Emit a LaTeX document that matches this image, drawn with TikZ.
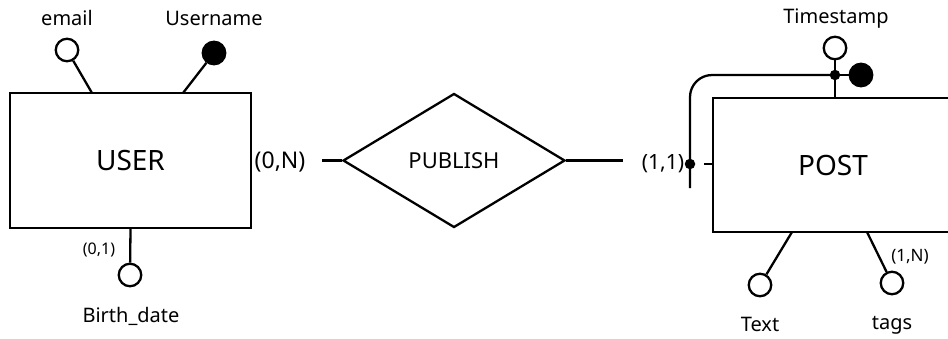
\documentclass[tikz,border=0pt]{standalone}
\usepackage{fontspec}
\setmainfont{Noto Sans}
\usetikzlibrary{shapes.geometric}
\begin{document}
\begin{tikzpicture}[x=1pt,y=-1pt,
  ln/.style={line width=2.3pt},
  ent/.style={draw, line width=2.3pt, rectangle, inner sep=0, font=\fontsize{28}{32}\selectfont},
  rel/.style={draw, line width=2.3pt, diamond, inner sep=0, font=\fontsize{22}{26}\selectfont},
  attr/.style={circle, draw, line width=2.3pt, minimum size=22.5pt, inner sep=0},
  key/.style={attr, fill=black},
  jdot/.style={circle, fill=black, minimum size=10.5pt, inner sep=0},
  lab/.style={font=\fontsize{20}{24}\selectfont, inner sep=0, anchor=base},
  card/.style={font=\fontsize{23}{26}\selectfont, inner sep=0},
  scard/.style={font=\fontsize{16}{19}\selectfont, inner sep=0}]
\clip (0,0) rectangle (948,338);
% entities
\node[ent, minimum width=241pt, minimum height=135pt] (user) at (130.5,160.5) {USER};
\node[ent, minimum width=240pt, minimum height=134pt] (post) at (833,165) {POST};
\node[rel, minimum width=222pt, minimum height=134pt] (pub) at (454,160.5) {PUBLISH};
% USER attributes
\node[attr] (email) at (67,50) {};
\node[key] (uname) at (214,53) {};
\node[attr] (birth) at (130,275) {};
\node[lab] (emailt) at (67,25) {email};
\node[lab] (unamet) at (214,25) {Username};
\node[lab] (birtht) at (131,322) {Birth\_date};
\node[scard] (c01) at (99,250) {(0,1)};
\coordinate (ue) at (92,93);
\coordinate (uu) at (183,93);
\draw[ln] (email) -- (ue);
\draw[ln] (uname) -- (uu);
\draw[ln] (birth) -- (user.south);
% relationship
\node[card] (c0n) at (280,162) {(0,N)};
\coordinate (pl) at (322,160.5);
\coordinate (pr) at (623,160.5);
\draw[ln] (pl) -- (pub.west);
\draw[ln] (pub.east) -- (pr);
\node[font=\fontsize{21}{24}\selectfont, inner sep=0] (c11) at (663,164) {(1,1)};
% POST attributes
\node[attr] (ts) at (835,48) {};
\node[key] (tskey) at (861,75) {};
\node[jdot] (tsdot) at (835,75) {};
\node[jdot] (iddot) at (690,164) {};
\node[lab] (tst) at (836,23) {Timestamp};
\coordinate (pt) at (835,98);
\coordinate (idbot) at (690,188);
\coordinate (corner) at (690,75);
\coordinate (stub) at (704,164);
\draw[ln] (ts) -- (pt);
\draw[ln, rounded corners=22pt] (idbot) -- (corner) -- (tsdot.center);
\draw[ln] (tsdot.center) -- (tskey);
\draw[ln] (stub) -- (post.west |- stub);
\node[attr] (text) at (760,285) {};
\node[attr] (tags) at (892,283) {};
\node[lab] (textt) at (760,331) {Text};
\node[lab] (tagst) at (892,329) {tags};
\node[font=\fontsize{17}{20}\selectfont, inner sep=0] (c1n) at (910,257) {(1,N)};
\coordinate (pte) at (792,232);
\coordinate (pta) at (867,232);
\draw[ln] (text) -- (pte);
\draw[ln] (tags) -- (pta);
\end{tikzpicture}
\end{document}
